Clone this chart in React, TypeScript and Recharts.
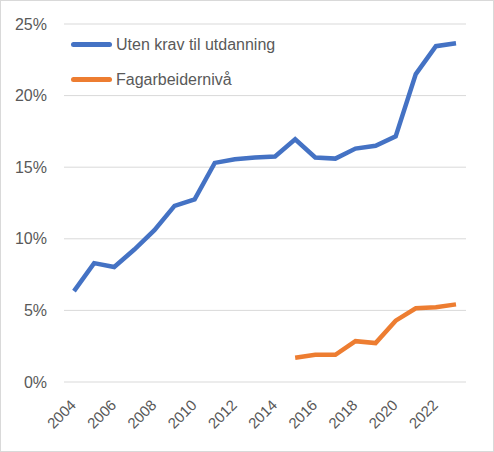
import React from 'react';
import { LineChart, Line, XAxis, YAxis, CartesianGrid } from 'recharts';

const years = [
  2004, 2005, 2006, 2007, 2008, 2009, 2010, 2011, 2012, 2013,
  2014, 2015, 2016, 2017, 2018, 2019, 2020, 2021, 2022, 2023,
];

// andel i prosent
const utenKrav = [
  6.35, 8.3, 8.03, 9.25, 10.6, 12.3, 12.75, 15.3, 15.55, 15.68,
  15.75, 16.95, 15.68, 15.6, 16.3, 16.5, 17.15, 21.5, 23.45, 23.65,
];

const fagarbeider = [
  null, null, null, null, null, null, null, null, null, null,
  null, 1.7, 1.9, 1.9, 2.85, 2.72, 4.28, 5.15, 5.22, 5.42,
];

const yTicks = [0, 5, 10, 15, 20, 25];

const seriesNames = ['Uten krav til utdanning', 'Fagarbeidernivå'];
const seriesColors = ['#4472C4', '#ED7D31'];

const data = years.map((year, i) => ({
  year,
  utenKrav: utenKrav[i],
  fagarbeider: fagarbeider[i],
}));

const FONT = '"Liberation Sans", Arial, sans-serif';

const YearTick = (props: any) => {
  const { x, y, payload } = props;
  const tx = x + 3;
  const ty = y + 16;
  return (
    <text
      x={tx}
      y={ty}
      transform={`rotate(-45, ${tx}, ${ty})`}
      textAnchor="end"
      fill="#595959"
      fontSize={15}
      fontFamily={FONT}
    >
      {payload.value}
    </text>
  );
};

// legenden ligger oppå plottet, ikke i recharts-layouten
const ChartLegend = () => (
  <div
    style={{
      position: 'absolute',
      top: 27,
      left: 71,
      fontFamily: FONT,
      fontSize: 16,
      color: '#595959',
    }}
  >
    {seriesNames.map((name, i) => (
      <div key={name} style={{ display: 'flex', alignItems: 'center', height: 35 }}>
        <div
          style={{
            width: 41,
            height: 5,
            borderRadius: 3,
            backgroundColor: seriesColors[i],
            marginRight: 4,
          }}
        />
        <span>{name}</span>
      </div>
    ))}
  </div>
);

export default function App() {
  return (
    <div
      style={{
        position: 'absolute',
        top: 0,
        left: 0,
        width: 494,
        height: 452,
        border: '1px solid #d9d9d9',
        boxSizing: 'border-box',
        background: '#fff',
      }}
    >
      <div style={{ position: 'absolute', top: -1, left: -1 }}>
        <LineChart
          width={494}
          height={452}
          data={data}
          margin={{ top: 24, right: 28, bottom: 0, left: 0 }}
        >
          <CartesianGrid vertical={false} stroke="#d9d9d9" strokeWidth={1} />
          <XAxis
            dataKey="year"
            interval={1}
            height={70}
            padding={{ left: 10, right: 10 }}
            axisLine={false}
            tickLine={false}
            tick={<YearTick />}
          />
          <YAxis
            domain={[0, 25]}
            ticks={yTicks}
            width={64}
            axisLine={false}
            tickLine={false}
            tickSize={0}
            tickMargin={17}
            tickFormatter={(v: number) => `${v}%`}
            tick={{ fill: '#595959', fontSize: 16, fontFamily: FONT }}
          />
          <Line
            type="linear"
            dataKey="utenKrav"
            stroke={seriesColors[0]}
            strokeWidth={4.5}
            dot={false}
            isAnimationActive={false}
          />
          <Line
            type="linear"
            dataKey="fagarbeider"
            stroke={seriesColors[1]}
            strokeWidth={4.5}
            dot={false}
            isAnimationActive={false}
          />
        </LineChart>
        <ChartLegend />
      </div>
    </div>
  );
}
